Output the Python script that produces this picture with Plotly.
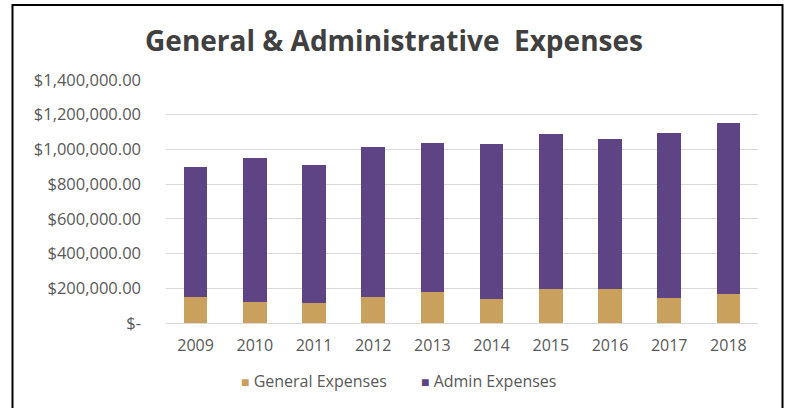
import plotly.graph_objects as go

years = ["2009", "2010", "2011", "2012", "2013", "2014", "2015", "2016", "2017", "2018"]
general_expenses = [147000, 123000, 113000, 147000, 178000, 138000, 196000, 196000, 146000, 169000]
admin_expenses = [754000, 826000, 796000, 867000, 861000, 892000, 891000, 866000, 947000, 982000]
y_ticks = [0, 200000, 400000, 600000, 800000, 1000000, 1200000, 1400000]
y_tick_labels = ["$-", "$200,000.00", "$400,000.00", "$600,000.00", "$800,000.00",
                 "$1,000,000.00", "$1,200,000.00", "$1,400,000.00"]

FONT = "Open Sans"
TEXT_GREY = "#595959"
GENERAL_COLOR = "#c9a05c"
ADMIN_COLOR = "#5e4385"

fig = go.Figure()
fig.add_trace(go.Bar(
    x=years, y=general_expenses, name="General Expenses",
    marker=dict(color=GENERAL_COLOR, line=dict(width=0)),
))
fig.add_trace(go.Bar(
    x=years, y=admin_expenses, name="Admin Expenses",
    marker=dict(color=ADMIN_COLOR, line=dict(width=0)),
))

# compact legend: coloured square followed closely by the series name
legend_y = (323.3 - 381.7) / 243.3
legend_items = [
    ("General Expenses", GENERAL_COLOR, (239 - 166) / 592),
    ("Admin Expenses", ADMIN_COLOR, (419 - 166) / 592),
]
annotations = [
    dict(
        text=f"<span style='color:{color};font-size:14px'>■</span> {name}",
        x=x, y=legend_y, xref="paper", yref="paper",
        xanchor="left", yanchor="middle", showarrow=False,
        font=dict(family=FONT, size=16, color=TEXT_GREY),
    )
    for name, color, x in legend_items
]

fig.update_layout(
    barmode="stack",
    bargap=0.6,
    width=787, height=408,
    margin=dict(l=166, r=29, t=80, b=85),
    paper_bgcolor="white",
    plot_bgcolor="white",
    font=dict(family=FONT, color=TEXT_GREY, size=14),
    title=dict(
        text="<b>General &amp; Administrative  Expenses</b>",
        x=394 / 787, xref="container", xanchor="center",
        y=1 - 41 / 408, yref="container", yanchor="middle",
        font=dict(family=FONT, size=28, color="#404040"),
    ),
    showlegend=False,
    annotations=annotations,
    shapes=[dict(
        type="rect", xref="paper", yref="paper",
        x0=(12.5 - 166) / 592, x1=(782.5 - 166) / 592,
        y0=-0.5, y1=(323.3 - 5) / 243.3,
        line=dict(color="black", width=2), fillcolor="rgba(0,0,0,0)",
        layer="below",
    )],
)

fig.update_xaxes(
    showgrid=False, showline=False, zeroline=False,
    ticks="", tickfont=dict(size=16, color=TEXT_GREY),
    ticklabelstandoff=11,
)
fig.update_yaxes(
    range=[0, 1400000],
    tickvals=y_ticks, ticktext=y_tick_labels,
    showgrid=True, gridcolor="#d9d9d9", gridwidth=1,
    zeroline=True, zerolinecolor="#d9d9d9", zerolinewidth=1,
    showline=False, ticks="",
    tickfont=dict(size=16.5, color=TEXT_GREY),
    ticklabelstandoff=24,
)

fig.write_html("out.html")
